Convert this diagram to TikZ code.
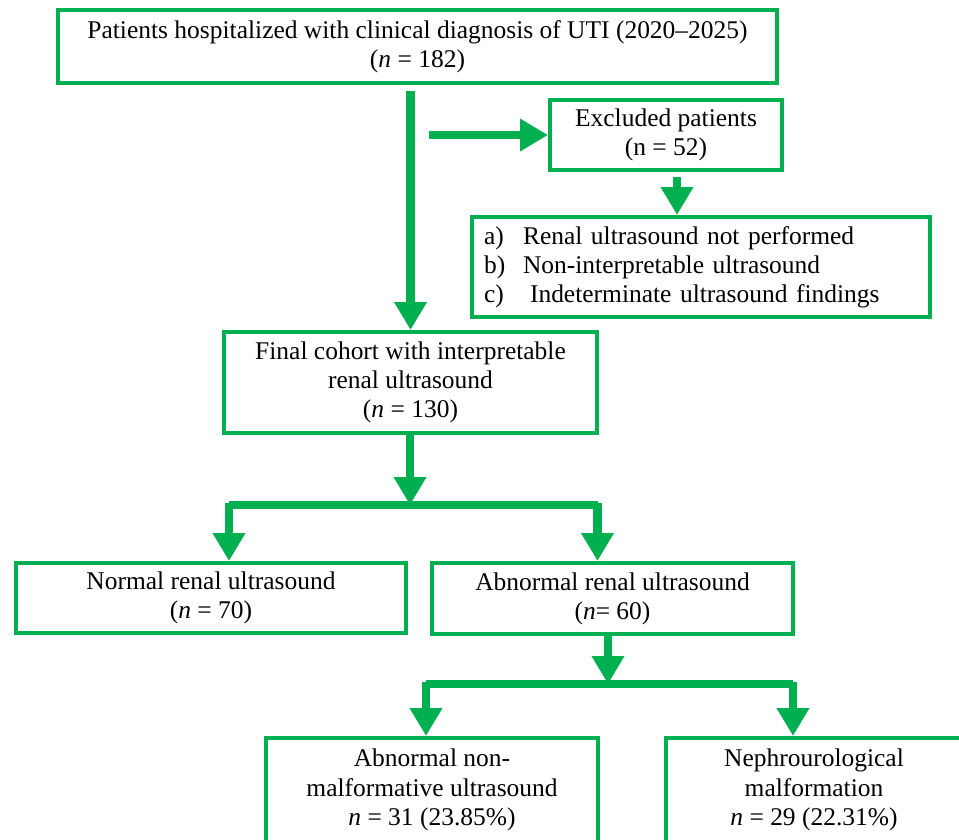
\documentclass[tikz,border=0pt]{standalone}
\usepackage{fontspec}
\setmainfont{Liberation Serif}
\usetikzlibrary{positioning, arrows.meta, calc}
\definecolor{flowgreen}{HTML}{00B050}

\begin{document}
\begin{tikzpicture}[
        x=0.02cm, y=-0.02cm,
        box/.style={rectangle, draw=flowgreen, line width=2.3pt, align=center,
            font=\fontsize{14.5}{16.6}\selectfont, inner sep=0pt},
        arrow/.style={-{Triangle[length=0.56cm, width=0.62cm]}, draw=flowgreen, line width=4.6pt},
        bar/.style={draw=flowgreen, line width=4.2pt}
    ]
        \useasboundingbox (0,0) rectangle (959,839);

        % Boxes
        \node (top) [box, minimum width=14.38cm, minimum height=1.46cm] at (417.5,46.5)
            {Patients hospitalized with clinical diagnosis of UTI (2020--2025)\\ (\textit{n} = 182)};
        \node (excl) [box, minimum width=4.64cm, minimum height=1.40cm] at (666,135)
            {Excluded patients\\ (n = 52)};
        \node (crit) [box, minimum width=9.16cm, minimum height=2.0cm, text width=8.68cm, align=left] at (701,267)
            {\makebox[0.78cm][l]{a)}Renal ultrasound not performed\\
             \makebox[0.78cm][l]{b)}Non-interpretable ultrasound\\
             \makebox[0.92cm][l]{c)}Indeterminate ultrasound findings};
        \node (final) [box, minimum width=7.46cm, minimum height=2.02cm] at (410.5,382.5)
            {Final cohort with interpretable\\ renal ultrasound\\ (\textit{n} = 130)};
        \node (normal) [box, minimum width=7.8cm, minimum height=1.4cm] at (211,598)
            {Normal renal ultrasound\\ (\textit{n} = 70)};
        \node (abn) [box, minimum width=7.22cm, minimum height=1.42cm] at (612.5,598.5)
            {Abnormal renal ultrasound\\ (\textit{n}= 60)};
        \node (nonmal) [box, minimum width=6.64cm, minimum height=2.08cm] at (432,790)
            {Abnormal non-\\ malformative ultrasound\\ \textit{n} = 31 (23.85\%)};
        \node (nephro) [box, minimum width=5.92cm, minimum height=2.08cm] at (814,790)
            {Nephrourological\\ malformation\\ \textit{n} = 29 (22.31\%)};

        % Split points
        \coordinate (splitA) at (410,505);
        \coordinate (splitB) at (608,684);
        \coordinate (exclout) at ($(excl.south)+(11,0)$);

        % Arrows
        \draw [arrow, shorten <=0.12cm] (final.north |- top.south) -- (final.north);
        \draw [arrow, shorten <=0.36cm] (excl.west -| final.north) -- (excl.west);
        \draw [arrow, shorten <=0.1cm] (exclout) -- (exclout |- crit.north);

        \draw [arrow] (final.south -| splitA) -- (splitA);
        \draw [bar] ($(splitA -| normal.north)+(18,0)$) -- ($(splitA -| abn.north)+(-15,0)$);
        \draw [arrow] ($(splitA -| normal.north)+(18,-2)$) -- ($(normal.north)+(18,0)$);
        \draw [arrow] ($(splitA -| abn.north)+(-15,-2)$) -- ($(abn.north)+(-15,0)$);

        \draw [arrow] (abn.south -| splitB) -- (splitB);
        \draw [bar] ($(splitB -| nonmal.north)+(-6,0)$) -- ($(splitB -| nephro.north)+(-21,0)$);
        \draw [arrow] ($(splitB -| nonmal.north)+(-6,-2)$) -- ($(nonmal.north)+(-6,0)$);
        \draw [arrow] ($(splitB -| nephro.north)+(-21,-2)$) -- ($(nephro.north)+(-21,0)$);
    \end{tikzpicture}
\end{document}
